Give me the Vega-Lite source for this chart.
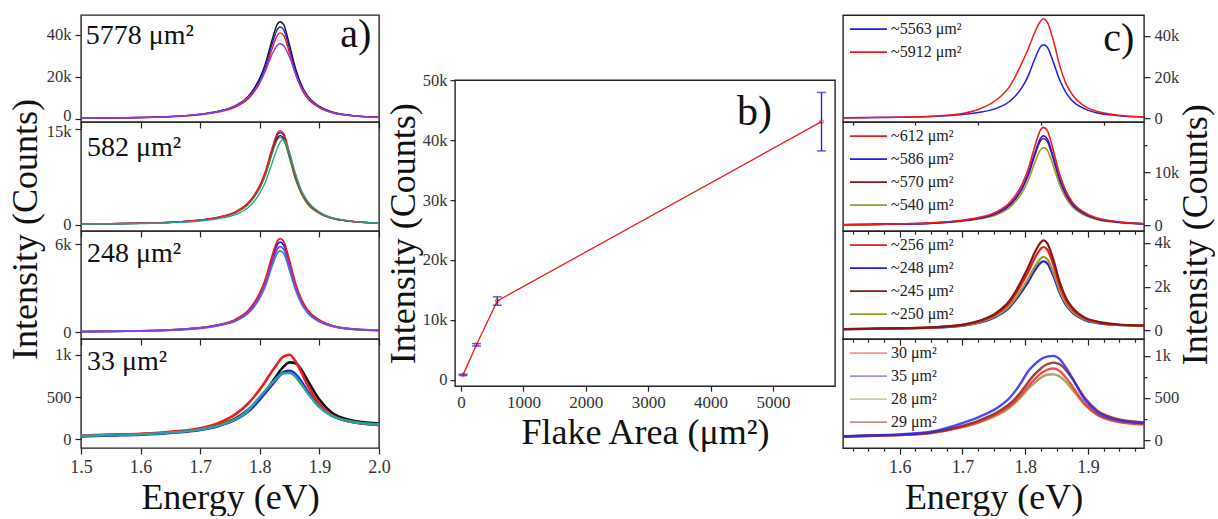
{
"$schema": "https://vega.github.io/schema/vega-lite/v6.json",
"background": "white",
"padding": {"left": 6, "top": 14, "right": 0, "bottom": 0},
"config": {
  "font": "Liberation Serif",
  "view": {"stroke": "#222222", "strokeWidth": 1.4},
  "axis": {"labelFont": "Liberation Serif", "labelFontSize": 18, "labelColor": "#333333", "titleFont": "Liberation Serif", "titleFontSize": 36, "titleFontWeight": "normal", "titleColor": "#111111", "domain": false, "grid": false, "tickColor": "#222222", "tickWidth": 1.2, "labelFlush": false, "labelOverlap": false, "labelPadding": 4},
  "axisY": {"labelFontSize": 16.5},
  "legend": {"orient": "top-left", "offset": 6, "padding": 0, "symbolType": "stroke", "symbolSize": 1369, "symbolStrokeWidth": 1.6, "clipHeight": 16, "rowPadding": 7, "labelFont": "Liberation Serif", "labelFontSize": 16, "labelColor": "#222222", "labelOffset": 3},
  "text": {"font": "Liberation Serif", "color": "#111111"}
},
"datasets": {
  "a1": [
    {"E":1.50,"black":370,"blue":350,"red":328,"violet":358},
    {"E":1.55,"black":509,"blue":482,"red":451,"violet":501},
    {"E":1.60,"black":741,"blue":701,"red":656,"violet":716},
    {"E":1.65,"black":1204,"blue":1139,"red":1066,"violet":1146},
    {"E":1.70,"black":2315,"blue":2190,"red":2050,"violet":2220},
    {"E":1.73,"black":3704,"blue":3504,"red":3280,"violet":3580},
    {"E":1.76,"black":6482,"blue":6132,"red":5740,"violet":6265},
    {"E":1.78,"black":10649,"blue":10074,"red":9430,"violet":10203},
    {"E":1.79,"black":14353,"blue":13578,"red":12710,"violet":13246},
    {"E":1.80,"black":19446,"blue":18396,"red":17220,"violet":17542},
    {"E":1.81,"black":26854,"blue":25404,"red":23780,"violet":23270},
    {"E":1.82,"black":37040,"blue":35040,"red":32800,"violet":30430},
    {"E":1.83,"black":45374,"blue":42924,"red":40180,"violet":35263},
    {"E":1.834,"black":46300,"blue":43800,"red":41000,"violet":35800},
    {"E":1.84,"black":44911,"blue":42486,"red":39770,"violet":34905},
    {"E":1.85,"black":35188,"blue":33288,"red":31160,"violet":29356},
    {"E":1.86,"black":24076,"blue":22776,"red":21320,"violet":21480},
    {"E":1.87,"black":16205,"blue":15330,"red":14350,"violet":15036},
    {"E":1.88,"black":11112,"blue":10512,"red":9840,"violet":10740},
    {"E":1.90,"black":6019,"blue":5694,"red":5330,"violet":5728},
    {"E":1.92,"black":3473,"blue":3285,"red":3075,"violet":3222},
    {"E":1.95,"black":1852,"blue":1752,"red":1640,"violet":1718},
    {"E":2.00,"black":833,"blue":788,"red":738,"violet":788}
  ],
  "a2": [
    {"E":1.50,"red":118,"blue":116,"black":112,"olive":110,"teal":94},
    {"E":1.55,"red":163,"blue":160,"black":154,"olive":151,"teal":134},
    {"E":1.60,"red":237,"blue":232,"black":224,"olive":219,"teal":188},
    {"E":1.65,"red":385,"blue":377,"black":364,"olive":356,"teal":308},
    {"E":1.70,"red":740,"blue":725,"black":700,"olive":685,"teal":590},
    {"E":1.73,"red":1184,"blue":1160,"black":1120,"olive":1096,"teal":938},
    {"E":1.76,"red":2072,"blue":2030,"black":1960,"olive":1918,"teal":1608},
    {"E":1.78,"red":3404,"blue":3335,"black":3220,"olive":3151,"teal":2680},
    {"E":1.79,"red":4588,"blue":4495,"black":4340,"olive":4247,"teal":3618},
    {"E":1.80,"red":6216,"blue":6090,"black":5880,"olive":5754,"teal":4958},
    {"E":1.81,"red":8584,"blue":8410,"black":8120,"olive":7946,"teal":6834},
    {"E":1.82,"red":11840,"blue":11600,"black":11200,"olive":10960,"teal":9514},
    {"E":1.83,"red":14504,"blue":14210,"black":13720,"olive":13426,"teal":12194},
    {"E":1.834,"red":14800,"blue":14500,"black":14000,"olive":13700,"teal":12998},
    {"E":1.84,"red":14356,"blue":14065,"black":13580,"olive":13289,"teal":13400},
    {"E":1.85,"red":11248,"blue":11020,"black":10640,"olive":10412,"teal":11256},
    {"E":1.86,"red":7696,"blue":7540,"black":7280,"olive":7124,"teal":8040},
    {"E":1.87,"red":5180,"blue":5075,"black":4900,"olive":4795,"teal":5360},
    {"E":1.88,"red":3552,"blue":3480,"black":3360,"olive":3288,"teal":3752},
    {"E":1.90,"red":1924,"blue":1885,"black":1820,"olive":1781,"teal":2010},
    {"E":1.92,"red":1110,"blue":1088,"black":1050,"olive":1028,"teal":1139},
    {"E":1.95,"red":592,"blue":580,"black":560,"olive":548,"teal":603},
    {"E":2.00,"red":266,"blue":261,"black":252,"olive":247,"teal":268}
  ],
  "a3": [
    {"E":1.50,"red":51,"blue":49,"violet":47,"teal":44},
    {"E":1.55,"red":70,"blue":68,"violet":64,"teal":61},
    {"E":1.60,"red":102,"blue":98,"violet":94,"teal":89},
    {"E":1.65,"red":166,"blue":160,"violet":152,"teal":144},
    {"E":1.70,"red":320,"blue":308,"violet":293,"teal":278},
    {"E":1.73,"red":512,"blue":492,"violet":468,"teal":444},
    {"E":1.76,"red":896,"blue":861,"violet":819,"teal":777},
    {"E":1.78,"red":1472,"blue":1415,"violet":1346,"teal":1277},
    {"E":1.79,"red":1984,"blue":1907,"violet":1814,"teal":1721},
    {"E":1.80,"red":2688,"blue":2583,"violet":2457,"teal":2331},
    {"E":1.81,"red":3712,"blue":3567,"violet":3393,"teal":3219},
    {"E":1.82,"red":5120,"blue":4920,"violet":4680,"teal":4440},
    {"E":1.83,"red":6272,"blue":6027,"violet":5733,"teal":5439},
    {"E":1.834,"red":6400,"blue":6150,"violet":5850,"teal":5550},
    {"E":1.84,"red":6208,"blue":5966,"violet":5675,"teal":5384},
    {"E":1.85,"red":4864,"blue":4674,"violet":4446,"teal":4218},
    {"E":1.86,"red":3328,"blue":3198,"violet":3042,"teal":2886},
    {"E":1.87,"red":2240,"blue":2153,"violet":2048,"teal":1943},
    {"E":1.88,"red":1536,"blue":1476,"violet":1404,"teal":1332},
    {"E":1.90,"red":832,"blue":800,"violet":761,"teal":722},
    {"E":1.92,"red":480,"blue":461,"violet":439,"teal":416},
    {"E":1.95,"red":256,"blue":246,"violet":234,"teal":222},
    {"E":2.00,"red":140,"blue":135,"violet":130,"teal":125}
  ],
  "a4": [
    {"E":1.50,"red":45,"black":40,"blue":35,"teal":40},
    {"E":1.55,"red":55,"black":50,"blue":45,"teal":50},
    {"E":1.60,"red":65,"black":60,"blue":55,"teal":60},
    {"E":1.65,"red":90,"black":80,"blue":75,"teal":80},
    {"E":1.70,"red":130,"black":115,"blue":110,"teal":115},
    {"E":1.73,"red":190,"black":165,"blue":155,"teal":160},
    {"E":1.76,"red":300,"black":250,"blue":235,"teal":240},
    {"E":1.78,"red":420,"black":345,"blue":325,"teal":340},
    {"E":1.79,"red":500,"black":410,"blue":390,"teal":420},
    {"E":1.80,"red":590,"black":490,"blue":470,"teal":500},
    {"E":1.81,"red":690,"black":575,"blue":555,"teal":580},
    {"E":1.82,"red":800,"black":670,"blue":640,"teal":660},
    {"E":1.83,"red":900,"black":770,"blue":725,"teal":735},
    {"E":1.834,"red":940,"black":810,"blue":760,"teal":760},
    {"E":1.84,"red":980,"black":860,"blue":795,"teal":780},
    {"E":1.85,"red":1000,"black":910,"blue":810,"teal":785},
    {"E":1.86,"red":920,"black":900,"blue":770,"teal":740},
    {"E":1.87,"red":790,"black":820,"blue":680,"teal":650},
    {"E":1.88,"red":640,"black":700,"blue":570,"teal":550},
    {"E":1.90,"red":420,"black":470,"blue":390,"teal":380},
    {"E":1.92,"red":290,"black":320,"blue":285,"teal":280},
    {"E":1.95,"red":210,"black":230,"blue":210,"teal":215},
    {"E":2.00,"red":170,"black":185,"blue":170,"teal":175}
  ],
  "b": [
    {"area":33,"I":830,"lo":730,"hi":930},
    {"area":248,"I":5850,"lo":5650,"hi":6050},
    {"area":582,"I":13170,"lo":12450,"hi":13850},
    {"area":5778,"I":43070,"lo":38200,"hi":47950}
  ],
  "c1": [
    {"E":1.51,"~5563 μm²":286,"~5912 μm²":241},
    {"E":1.55,"~5563 μm²":393,"~5912 μm²":386},
    {"E":1.60,"~5563 μm²":571,"~5912 μm²":627},
    {"E":1.65,"~5563 μm²":928,"~5912 μm²":1060},
    {"E":1.695,"~5563 μm²":1785,"~5912 μm²":2169},
    {"E":1.725,"~5563 μm²":2856,"~5912 μm²":4338},
    {"E":1.755,"~5563 μm²":4998,"~5912 μm²":9158},
    {"E":1.775,"~5563 μm²":8211,"~5912 μm²":15424},
    {"E":1.785,"~5563 μm²":11067,"~5912 μm²":20726},
    {"E":1.795,"~5563 μm²":14994,"~5912 μm²":26992},
    {"E":1.805,"~5563 μm²":20706,"~5912 μm²":33740},
    {"E":1.815,"~5563 μm²":28560,"~5912 μm²":41452},
    {"E":1.825,"~5563 μm²":34986,"~5912 μm²":47236},
    {"E":1.829,"~5563 μm²":35700,"~5912 μm²":48200},
    {"E":1.835,"~5563 μm²":34629,"~5912 μm²":46754},
    {"E":1.845,"~5563 μm²":27132,"~5912 μm²":37596},
    {"E":1.855,"~5563 μm²":18564,"~5912 μm²":25546},
    {"E":1.865,"~5563 μm²":12495,"~5912 μm²":16870},
    {"E":1.875,"~5563 μm²":8568,"~5912 μm²":11568},
    {"E":1.895,"~5563 μm²":4641,"~5912 μm²":5784},
    {"E":1.915,"~5563 μm²":2678,"~5912 μm²":3374},
    {"E":1.945,"~5563 μm²":1428,"~5912 μm²":1687},
    {"E":1.99,"~5563 μm²":643,"~5912 μm²":723}
  ],
  "c2": [
    {"E":1.51,"~612 μm²":147,"~586 μm²":134,"~570 μm²":130,"~540 μm²":117},
    {"E":1.55,"~612 μm²":202,"~586 μm²":185,"~570 μm²":179,"~540 μm²":161},
    {"E":1.60,"~612 μm²":294,"~586 μm²":269,"~570 μm²":261,"~540 μm²":234},
    {"E":1.65,"~612 μm²":478,"~586 μm²":437,"~570 μm²":424,"~540 μm²":380},
    {"E":1.695,"~612 μm²":920,"~586 μm²":840,"~570 μm²":815,"~540 μm²":730},
    {"E":1.725,"~612 μm²":1472,"~586 μm²":1344,"~570 μm²":1304,"~540 μm²":1168},
    {"E":1.755,"~612 μm²":2576,"~586 μm²":2352,"~570 μm²":2282,"~540 μm²":2044},
    {"E":1.775,"~612 μm²":4232,"~586 μm²":3864,"~570 μm²":3749,"~540 μm²":3358},
    {"E":1.785,"~612 μm²":5704,"~586 μm²":5208,"~570 μm²":5053,"~540 μm²":4526},
    {"E":1.795,"~612 μm²":7728,"~586 μm²":7056,"~570 μm²":6846,"~540 μm²":6132},
    {"E":1.805,"~612 μm²":10672,"~586 μm²":9744,"~570 μm²":9454,"~540 μm²":8468},
    {"E":1.815,"~612 μm²":14720,"~586 μm²":13440,"~570 μm²":13040,"~540 μm²":11680},
    {"E":1.825,"~612 μm²":18032,"~586 μm²":16464,"~570 μm²":15974,"~540 μm²":14308},
    {"E":1.829,"~612 μm²":18400,"~586 μm²":16800,"~570 μm²":16300,"~540 μm²":14600},
    {"E":1.835,"~612 μm²":17848,"~586 μm²":16296,"~570 μm²":15811,"~540 μm²":14162},
    {"E":1.845,"~612 μm²":13984,"~586 μm²":12768,"~570 μm²":12388,"~540 μm²":11096},
    {"E":1.855,"~612 μm²":9568,"~586 μm²":8736,"~570 μm²":8476,"~540 μm²":7592},
    {"E":1.865,"~612 μm²":6440,"~586 μm²":5880,"~570 μm²":5705,"~540 μm²":5110},
    {"E":1.875,"~612 μm²":4416,"~586 μm²":4032,"~570 μm²":3912,"~540 μm²":3504},
    {"E":1.895,"~612 μm²":2392,"~586 μm²":2184,"~570 μm²":2119,"~540 μm²":1898},
    {"E":1.915,"~612 μm²":1380,"~586 μm²":1260,"~570 μm²":1223,"~540 μm²":1095},
    {"E":1.945,"~612 μm²":736,"~586 μm²":672,"~570 μm²":652,"~540 μm²":584},
    {"E":1.99,"~612 μm²":331,"~586 μm²":302,"~570 μm²":293,"~540 μm²":263}
  ],
  "c3": [
    {"E":1.51,"~256 μm²":59,"~248 μm²":56,"~245 μm²":60,"~250 μm²":57},
    {"E":1.55,"~256 μm²":75,"~248 μm²":70,"~245 μm²":77,"~250 μm²":71},
    {"E":1.60,"~256 μm²":99,"~248 μm²":90,"~245 μm²":103,"~250 μm²":93},
    {"E":1.65,"~256 μm²":138,"~248 μm²":123,"~245 μm²":144,"~250 μm²":128},
    {"E":1.695,"~256 μm²":229,"~248 μm²":200,"~245 μm²":242,"~250 μm²":209},
    {"E":1.725,"~256 μm²":398,"~248 μm²":339,"~245 μm²":425,"~250 μm²":357},
    {"E":1.755,"~256 μm²":773,"~248 μm²":649,"~245 μm²":830,"~250 μm²":687},
    {"E":1.775,"~256 μm²":1260,"~248 μm²":1052,"~245 μm²":1356,"~250 μm²":1116},
    {"E":1.785,"~256 μm²":1673,"~248 μm²":1393,"~245 μm²":1802,"~250 μm²":1479},
    {"E":1.795,"~256 μm²":2160,"~248 μm²":1796,"~245 μm²":2328,"~250 μm²":1908},
    {"E":1.805,"~256 μm²":2685,"~248 μm²":2230,"~245 μm²":2895,"~250 μm²":2370},
    {"E":1.815,"~256 μm²":3285,"~248 μm²":2726,"~245 μm²":3543,"~250 μm²":2898},
    {"E":1.825,"~256 μm²":3735,"~248 μm²":3098,"~245 μm²":4029,"~250 μm²":3294},
    {"E":1.829,"~256 μm²":3810,"~248 μm²":3160,"~245 μm²":4110,"~250 μm²":3360},
    {"E":1.835,"~256 μm²":3698,"~248 μm²":3067,"~245 μm²":3989,"~250 μm²":3261},
    {"E":1.845,"~256 μm²":2985,"~248 μm²":2478,"~245 μm²":3219,"~250 μm²":2634},
    {"E":1.855,"~256 μm²":2053,"~248 μm²":1708,"~245 μm²":2212,"~250 μm²":1814},
    {"E":1.865,"~256 μm²":1383,"~248 μm²":1155,"~245 μm²":1488,"~250 μm²":1225},
    {"E":1.875,"~256 μm²":980,"~248 μm²":824,"~245 μm²":1052,"~250 μm²":872},
    {"E":1.895,"~256 μm²":550,"~248 μm²":472,"~245 μm²":586,"~250 μm²":496},
    {"E":1.915,"~256 μm²":383,"~248 μm²":337,"~245 μm²":404,"~250 μm²":351},
    {"E":1.945,"~256 μm²":271,"~248 μm²":249,"~245 μm²":282,"~250 μm²":256},
    {"E":1.99,"~256 μm²":216,"~248 μm²":207,"~245 μm²":221,"~250 μm²":210}
  ],
  "c4": [
    {"E":1.51,"30 μm²":40,"35 μm²":45,"28 μm²":40,"29 μm²":45},
    {"E":1.55,"30 μm²":50,"35 μm²":55,"28 μm²":50,"29 μm²":55},
    {"E":1.60,"30 μm²":60,"35 μm²":68,"28 μm²":60,"29 μm²":65},
    {"E":1.65,"30 μm²":85,"35 μm²":100,"28 μm²":85,"29 μm²":90},
    {"E":1.695,"30 μm²":150,"35 μm²":190,"28 μm²":145,"29 μm²":160},
    {"E":1.725,"30 μm²":215,"35 μm²":270,"28 μm²":205,"29 μm²":230},
    {"E":1.755,"30 μm²":310,"35 μm²":380,"28 μm²":295,"29 μm²":330},
    {"E":1.775,"30 μm²":405,"35 μm²":500,"28 μm²":385,"29 μm²":430},
    {"E":1.785,"30 μm²":470,"35 μm²":590,"28 μm²":450,"29 μm²":500},
    {"E":1.795,"30 μm²":550,"35 μm²":700,"28 μm²":525,"29 μm²":590},
    {"E":1.805,"30 μm²":640,"35 μm²":820,"28 μm²":610,"29 μm²":690},
    {"E":1.815,"30 μm²":720,"35 μm²":900,"28 μm²":680,"29 μm²":780},
    {"E":1.825,"30 μm²":790,"35 μm²":960,"28 μm²":740,"29 μm²":850},
    {"E":1.829,"30 μm²":810,"35 μm²":975,"28 μm²":760,"29 μm²":875},
    {"E":1.835,"30 μm²":835,"35 μm²":990,"28 μm²":775,"29 μm²":900},
    {"E":1.845,"30 μm²":850,"35 μm²":1000,"28 μm²":780,"29 μm²":920},
    {"E":1.855,"30 μm²":820,"35 μm²":960,"28 μm²":755,"29 μm²":900},
    {"E":1.865,"30 μm²":740,"35 μm²":860,"28 μm²":690,"29 μm²":830},
    {"E":1.875,"30 μm²":640,"35 μm²":740,"28 μm²":600,"29 μm²":730},
    {"E":1.895,"30 μm²":430,"35 μm²":480,"28 μm²":420,"29 μm²":500},
    {"E":1.915,"30 μm²":300,"35 μm²":330,"28 μm²":300,"29 μm²":350},
    {"E":1.945,"30 μm²":220,"35 μm²":240,"28 μm²":230,"29 μm²":255},
    {"E":1.99,"30 μm²":185,"35 μm²":200,"28 μm²":195,"29 μm²":210}
  ]
},
"hconcat": [
  {
    "vconcat": [
      {
        "width": 298, "height": 107, "data": {"name": "a1"},
        "layer": [
          {"transform": [{"fold": ["black","blue","red","violet"], "as": ["s","v"]}],
           "mark": {"type": "line", "interpolate": "monotone", "strokeWidth": 1.4},
           "encoding": {
             "x": {"field": "E", "type": "quantitative", "scale": {"domain": [1.5, 2.0], "nice": false, "zero": false},
                   "axis": {"values": [1.5,1.525,1.55,1.575,1.6,1.625,1.65,1.675,1.7,1.725,1.75,1.775,1.8,1.825,1.85,1.875,1.9,1.925,1.95,1.975,2.0], "labels": false, "title": null,
                            "tickSize": {"condition": {"test": "abs(datum.value*10-round(datum.value*10))<0.001", "value": 6}, "value": 3}}},
             "y": {"field": "v", "type": "quantitative", "scale": {"domain": [-1430, 49520], "nice": false, "zero": false},
                   "axis": {"title": null, "values": [0,10000,20000,30000,40000],
                            "labelOffset": {"condition": {"test": "datum.value == 0", "value": -3}, "value": 0},
                            "tickSize": {"condition": {"test": "datum.value % 20000 == 0", "value": 6}, "value": 3},
                            "labelExpr": "datum.value % 20000 == 0 ? (datum.value >= 1000 ? datum.value/1000 + 'k' : '' + datum.value) : ''"}},
             "color": {"field": "s", "type": "nominal", "scale": {"domain": ["black","blue","red","violet"], "range": ["#111111","#1c1cec","#ee1c1c","#8a3df0"]}, "legend": null}
           }},
          {"data": {"values": [{}]}, "mark": {"type": "text", "align": "left", "baseline": "alphabetic", "fontSize": 28, "text": "5778 μm²"},
           "encoding": {"x": {"datum": 1.508, "type": "quantitative"}, "y": {"datum": 35568, "type": "quantitative"}}},
          {"data": {"values": [{}]}, "mark": {"type": "text", "align": "right", "baseline": "alphabetic", "fontSize": 40, "text": "a)"},
           "encoding": {"x": {"datum": 1.987, "type": "quantitative"}, "y": {"datum": 34283, "type": "quantitative"}}}
        ]
      },
      {
        "width": 298, "height": 109, "data": {"name": "a2"},
        "layer": [
          {"transform": [{"fold": ["black","blue","olive","red","teal"], "as": ["s","v"]}],
           "mark": {"type": "line", "interpolate": "monotone", "strokeWidth": 1.4},
           "encoding": {
             "x": {"field": "E", "type": "quantitative", "scale": {"domain": [1.5, 2.0], "nice": false, "zero": false},
                   "axis": {"values": [1.5,1.525,1.55,1.575,1.6,1.625,1.65,1.675,1.7,1.725,1.75,1.775,1.8,1.825,1.85,1.875,1.9,1.925,1.95,1.975,2.0], "labels": false, "title": null,
                            "tickSize": {"condition": {"test": "abs(datum.value*10-round(datum.value*10))<0.001", "value": 6}, "value": 3}}},
             "y": {"field": "v", "type": "quantitative", "scale": {"domain": [-990, 16150], "nice": false, "zero": false},
                   "axis": {"title": "Intensity (Counts)", "titleY": 107, "titlePadding": 2, "values": [0,2500,5000,7500,10000,12500,15000],
                            "labelOffset": {"condition": {"test": "datum.value == 15000", "value": 2}, "value": 0},
                            "tickSize": {"condition": {"test": "datum.value % 5000 == 0", "value": 6}, "value": 3},
                            "labelExpr": "datum.value % 5000 == 0 ? (datum.value >= 1000 ? datum.value/1000 + 'k' : '' + datum.value) : ''"}},
             "color": {"field": "s", "type": "nominal", "scale": {"domain": ["black","blue","olive","red","teal"], "range": ["#111111","#1c1cec","#5f7f20","#ee1c1c","#2f9f9a"]}, "legend": null}
           }},
          {"data": {"values": [{}]}, "mark": {"type": "text", "align": "left", "baseline": "alphabetic", "fontSize": 28, "text": "582 μm²"},
           "encoding": {"x": {"datum": 1.51, "type": "quantitative"}, "y": {"datum": 10804, "type": "quantitative"}}}
        ]
      },
      {
        "width": 298, "height": 108, "data": {"name": "a3"},
        "layer": [
          {"transform": [{"fold": ["blue","red","teal","violet"], "as": ["s","v"]}],
           "mark": {"type": "line", "interpolate": "monotone", "strokeWidth": 1.8},
           "encoding": {
             "x": {"field": "E", "type": "quantitative", "scale": {"domain": [1.5, 2.0], "nice": false, "zero": false},
                   "axis": {"values": [1.5,1.525,1.55,1.575,1.6,1.625,1.65,1.675,1.7,1.725,1.75,1.775,1.8,1.825,1.85,1.875,1.9,1.925,1.95,1.975,2.0], "labels": false, "title": null,
                            "tickSize": {"condition": {"test": "abs(datum.value*10-round(datum.value*10))<0.001", "value": 6}, "value": 3}}},
             "y": {"field": "v", "type": "quantitative", "scale": {"domain": [-457, 6915], "nice": false, "zero": false},
                   "axis": {"title": null, "values": [0,1000,2000,3000,4000,5000,6000],
                            "tickSize": {"condition": {"test": "datum.value % 2000 == 0", "value": 6}, "value": 3},
                            "labelExpr": "datum.value % 2000 == 0 ? (datum.value >= 1000 ? datum.value/1000 + 'k' : '' + datum.value) : ''"}},
             "color": {"field": "s", "type": "nominal", "scale": {"domain": ["blue","red","teal","violet"], "range": ["#1c1cec","#ee1c1c","#2f9f9a","#8a3df0"]}, "legend": null}
           }},
          {"data": {"values": [{}]}, "mark": {"type": "text", "align": "left", "baseline": "alphabetic", "fontSize": 28, "text": "248 μm²"},
           "encoding": {"x": {"datum": 1.51, "type": "quantitative"}, "y": {"datum": 4799, "type": "quantitative"}}}
        ]
      },
      {
        "width": 298, "height": 109, "data": {"name": "a4"},
        "layer": [
          {"transform": [{"fold": ["black","blue","red","teal"], "as": ["s","v"]}],
           "mark": {"type": "line", "interpolate": "monotone", "strokeWidth": 2.6},
           "encoding": {
             "x": {"field": "E", "type": "quantitative", "scale": {"domain": [1.5, 2.0], "nice": false, "zero": false},
                   "axis": {"values": [1.5,1.525,1.55,1.575,1.6,1.625,1.65,1.675,1.7,1.725,1.75,1.775,1.8,1.825,1.85,1.875,1.9,1.925,1.95,1.975,2.0], "title": "Energy (eV)", "titlePadding": 4,
                            "labelExpr": "abs(datum.value*10-round(datum.value*10))<0.001 ? format(datum.value,'.1f') : ''",
                            "tickSize": {"condition": {"test": "abs(datum.value*10-round(datum.value*10))<0.001", "value": 6}, "value": 3}}},
             "y": {"field": "v", "type": "quantitative", "scale": {"domain": [-103, 1186], "nice": false, "zero": false},
                   "axis": {"title": null, "values": [0,250,500,750,1000],
                            "tickSize": {"condition": {"test": "datum.value % 500 == 0", "value": 6}, "value": 3},
                            "labelExpr": "datum.value % 500 == 0 ? (datum.value >= 1000 ? datum.value/1000 + 'k' : '' + datum.value) : ''"}},
             "color": {"field": "s", "type": "nominal", "scale": {"domain": ["black","blue","red","teal"], "range": ["#111111","#1c1cec","#ee1c1c","#2f9f9a"]}, "legend": null}
           }},
          {"data": {"values": [{}]}, "mark": {"type": "text", "align": "left", "baseline": "alphabetic", "fontSize": 28, "text": "33 μm²"},
           "encoding": {"x": {"datum": 1.51, "type": "quantitative"}, "y": {"datum": 824, "type": "quantitative"}}}
        ]
      }
    ],
    "spacing": 0,
    "bounds": "flush",
    "resolve": {"scale": {"x": "independent", "y": "independent", "color": "independent"}}
  },
  {
    "hconcat": [
      {
        "width": 380, "height": 306, "data": {"name": "b"},
        "layer": [
          {"mark": {"type": "line", "color": "#ee1c1c", "strokeWidth": 1.3},
           "encoding": {
             "x": {"field": "area", "type": "quantitative", "scale": {"domain": [-96, 5994], "nice": false, "zero": false},
                   "axis": {"title": "Flake Area (μm²)", "titlePadding": 5, "labelFontSize": 17, "labelPadding": 3, "values": [0,500,1000,1500,2000,2500,3000,3500,4000,4500,5000,5500],
                            "tickSize": {"condition": {"test": "datum.value % 1000 == 0", "value": 5}, "value": 3},
                            "labelExpr": "datum.value % 1000 == 0 ? '' + datum.value : ''"}},
             "y": {"field": "I", "type": "quantitative", "scale": {"domain": [-1050, 50000], "nice": false, "zero": false},
                   "axis": {"title": "Intensity (Counts)", "titlePadding": 0, "labelPadding": 3, "values": [0,5000,10000,15000,20000,25000,30000,35000,40000,45000,50000],
                            "tickSize": {"condition": {"test": "datum.value % 10000 == 0", "value": 5}, "value": 3},
                            "labelExpr": "datum.value % 10000 == 0 ? (datum.value >= 1000 ? datum.value/1000 + 'k' : '' + datum.value) : ''"}}
           }},
          {"mark": {"type": "rule", "color": "#1c1cec", "strokeWidth": 1.3},
           "encoding": {"x": {"field": "area", "type": "quantitative"}, "y": {"field": "lo", "type": "quantitative"}, "y2": {"field": "hi"}}},
          {"mark": {"type": "tick", "orient": "horizontal", "color": "#1c1cec", "size": 9, "thickness": 1.5},
           "encoding": {"x": {"field": "area", "type": "quantitative"}, "y": {"field": "lo", "type": "quantitative"}}},
          {"mark": {"type": "tick", "orient": "horizontal", "color": "#1c1cec", "size": 9, "thickness": 1.5},
           "encoding": {"x": {"field": "area", "type": "quantitative"}, "y": {"field": "hi", "type": "quantitative"}}},
          {"mark": {"type": "point", "shape": "circle", "filled": false, "color": "#ee1c1c", "size": 16, "strokeWidth": 1},
           "encoding": {"x": {"field": "area", "type": "quantitative"}, "y": {"field": "I", "type": "quantitative"}}},
          {"data": {"values": [{}]}, "mark": {"type": "text", "align": "left", "baseline": "alphabetic", "fontSize": 42, "text": "b)"},
           "encoding": {"x": {"datum": 4423, "type": "quantitative"}, "y": {"datum": 42500, "type": "quantitative"}}}
        ]
      },
      {
        "vconcat": [
          {
            "width": 301, "height": 107, "data": {"name": "c1"},
            "layer": [
              {"transform": [{"fold": ["~5563 μm²","~5912 μm²"], "as": ["s","v"]}],
               "mark": {"type": "line", "interpolate": "monotone", "strokeWidth": 1.5},
               "encoding": {
                 "x": {"field": "E", "type": "quantitative", "scale": {"domain": [1.5097, 1.9893], "nice": false, "zero": false},
                       "axis": {"values": [1.525,1.55,1.575,1.6,1.625,1.65,1.675,1.7,1.725,1.75,1.775,1.8,1.825,1.85,1.875,1.9,1.925,1.95,1.975], "labels": false, "title": null,
                                "tickSize": {"condition": {"test": "abs(datum.value*10-round(datum.value*10))<0.001", "value": 6}, "value": 3}}},
                 "y": {"field": "v", "type": "quantitative", "scale": {"domain": [-1800, 50000], "nice": false, "zero": false},
                       "axis": {"orient": "right", "title": null, "values": [0,10000,20000,30000,40000],
                                "tickSize": {"condition": {"test": "datum.value % 20000 == 0", "value": 6}, "value": 3},
                                "labelExpr": "datum.value % 20000 == 0 ? (datum.value >= 1000 ? datum.value/1000 + 'k' : '' + datum.value) : ''"}},
                 "color": {"field": "s", "type": "nominal", "scale": {"domain": ["~5563 μm²","~5912 μm²"], "range": ["#1c1cec","#ee1c1c"]}, "legend": {"title": null}}
               }},
              {"data": {"values": [{}]}, "mark": {"type": "text", "align": "right", "baseline": "alphabetic", "fontSize": 40, "text": "c)"},
               "encoding": {"x": {"datum": 1.974, "type": "quantitative"}, "y": {"datum": 32572, "type": "quantitative"}}}
            ]
          },
          {
            "width": 301, "height": 109, "data": {"name": "c2"},
            "transform": [{"fold": ["~540 μm²","~570 μm²","~586 μm²","~612 μm²"], "as": ["s","v"]}],
            "mark": {"type": "line", "interpolate": "monotone", "strokeWidth": 1.6},
            "encoding": {
              "x": {"field": "E", "type": "quantitative", "scale": {"domain": [1.5097, 1.9893], "nice": false, "zero": false},
                    "axis": {"values": [1.525,1.55,1.575,1.6,1.625,1.65,1.675,1.7,1.725,1.75,1.775,1.8,1.825,1.85,1.875,1.9,1.925,1.95,1.975], "labels": false, "title": null,
                             "tickSize": {"condition": {"test": "abs(datum.value*10-round(datum.value*10))<0.001", "value": 6}, "value": 3}}},
              "y": {"field": "v", "type": "quantitative", "scale": {"domain": [-1070, 19380], "nice": false, "zero": false},
                    "axis": {"orient": "right", "title": "Intensity (Counts)", "titleY": 112, "titleAngle": 270, "titleBaseline": "top", "titlePadding": 0, "values": [0,5000,10000,15000],
                             "tickSize": {"condition": {"test": "datum.value % 10000 == 0", "value": 6}, "value": 3},
                             "labelExpr": "datum.value % 10000 == 0 ? (datum.value >= 1000 ? datum.value/1000 + 'k' : '' + datum.value) : ''"}},
              "color": {"field": "s", "type": "nominal", "scale": {"domain": ["~612 μm²","~586 μm²","~570 μm²","~540 μm²"], "range": ["#ee1c1c","#1c1cec","#841818","#9b9b2e"]}, "legend": {"title": null}}
            }
          },
          {
            "width": 301, "height": 108, "data": {"name": "c3"},
            "transform": [{"fold": ["~248 μm²","~250 μm²","~256 μm²","~245 μm²"], "as": ["s","v"]}],
            "mark": {"type": "line", "interpolate": "monotone", "strokeWidth": 2.2},
            "encoding": {
              "x": {"field": "E", "type": "quantitative", "scale": {"domain": [1.5097, 1.9893], "nice": false, "zero": false},
                    "axis": {"values": [1.525,1.55,1.575,1.6,1.625,1.65,1.675,1.7,1.725,1.75,1.775,1.8,1.825,1.85,1.875,1.9,1.925,1.95,1.975], "labels": false, "title": null,
                             "tickSize": {"condition": {"test": "abs(datum.value*10-round(datum.value*10))<0.001", "value": 6}, "value": 3}}},
              "y": {"field": "v", "type": "quantitative", "scale": {"domain": [-397, 4534], "nice": false, "zero": false},
                    "axis": {"orient": "right", "title": null, "values": [0,1000,2000,3000,4000],
                             "tickSize": {"condition": {"test": "datum.value % 2000 == 0", "value": 6}, "value": 3},
                             "labelExpr": "datum.value % 2000 == 0 ? (datum.value >= 1000 ? datum.value/1000 + 'k' : '' + datum.value) : ''"}},
              "color": {"field": "s", "type": "nominal", "scale": {"domain": ["~256 μm²","~248 μm²","~245 μm²","~250 μm²"], "range": ["#ee1c1c","#1c1cec","#841818","#9b9b2e"]}, "legend": {"title": null}}
            }
          },
          {
            "width": 301, "height": 109, "data": {"name": "c4"},
            "transform": [{"fold": ["28 μm²","30 μm²","29 μm²","35 μm²"], "as": ["s","v"]}],
            "mark": {"type": "line", "interpolate": "monotone", "strokeWidth": 2.4, "opacity": 0.85},
            "encoding": {
              "x": {"field": "E", "type": "quantitative", "scale": {"domain": [1.5097, 1.9893], "nice": false, "zero": false},
                    "axis": {"values": [1.525,1.55,1.575,1.6,1.625,1.65,1.675,1.7,1.725,1.75,1.775,1.8,1.825,1.85,1.875,1.9,1.925,1.95,1.975], "title": "Energy (eV)", "titlePadding": 4,
                             "labelExpr": "abs(datum.value*10-round(datum.value*10))<0.001 ? format(datum.value,'.1f') : ''",
                             "tickSize": {"condition": {"test": "abs(datum.value*10-round(datum.value*10))<0.001", "value": 6}, "value": 3}}},
              "y": {"field": "v", "type": "quantitative", "scale": {"domain": [-95, 1198], "nice": false, "zero": false},
                    "axis": {"orient": "right", "title": null, "values": [0,250,500,750,1000],
                             "tickSize": {"condition": {"test": "datum.value % 500 == 0", "value": 6}, "value": 3},
                             "labelExpr": "datum.value % 500 == 0 ? (datum.value >= 1000 ? datum.value/1000 + 'k' : '' + datum.value) : ''"}},
              "color": {"field": "s", "type": "nominal", "scale": {"domain": ["30 μm²","35 μm²","28 μm²","29 μm²"], "range": ["#f03030","#2a2af0","#9a9a40","#902020"]}, "legend": {"title": null, "symbolOpacity": 0.5}}
            }
          }
        ],
        "spacing": 0,
        "bounds": "flush",
        "resolve": {"scale": {"x": "independent", "y": "independent", "color": "independent"}, "legend": {"color": "independent"}}
      }
    ],
    "spacing": 1,
    "center": true,
    "resolve": {"scale": {"x": "independent", "y": "independent", "color": "independent"}, "legend": {"color": "independent"}}
  }
],
"spacing": -7,
"resolve": {"scale": {"x": "independent", "y": "independent", "color": "independent"}, "legend": {"color": "independent"}}
}
